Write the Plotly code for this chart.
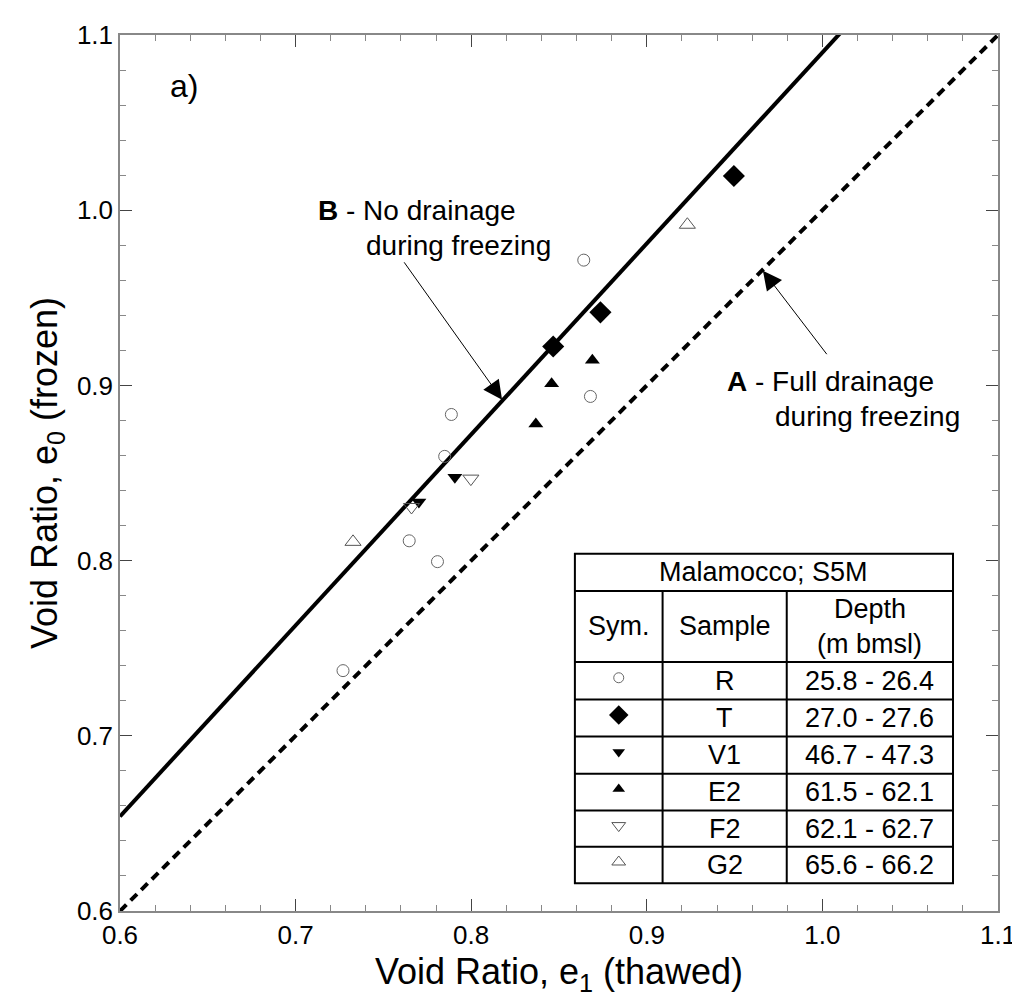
import plotly.graph_objects as go

# ---- data (void ratios) ----
R_e1 = [0.7887, 0.7849, 0.7647, 0.7808, 0.8679, 0.8641, 0.7270]
R_e0 = [0.8834, 0.8595, 0.8113, 0.7994, 0.8937, 0.9715, 0.7372]
T_e1 = [0.8467, 0.8736, 0.9496]
T_e0 = [0.9222, 0.9417, 1.0195]
V1_e1 = [0.7907, 0.7702]
V1_e0 = [0.8476, 0.8334]
E2_e1 = [0.8368, 0.8458, 0.8690]
E2_e0 = [0.8780, 0.9010, 0.9143]
F2_e1 = [0.7998, 0.7660]
F2_e0 = [0.8468, 0.8306]
G2_e1 = [0.7327, 0.9231]
G2_e0 = [0.8107, 0.9917]

line_e1 = [0.6, 1.1]
expansion = 1.09  # no drainage: e0 = 1.09 * e1

samples = ["R", "T", "V1", "E2", "F2", "G2"]
depths = ["25.8 - 26.4", "27.0 - 27.6", "46.7 - 47.3", "61.5 - 62.1", "62.1 - 62.7", "65.6 - 66.2"]

FONT = "Liberation Sans, Arial, sans-serif"

# plot area in pixels
L, R_, T_, B_ = 112, 996, 21, 903
W, H = 1020, 998


def px(x):
    return (x - L) / (R_ - L)


def py(y):
    return (B_ - y) / (B_ - T_)


fig = go.Figure()

# lines
fig.add_trace(go.Scatter(x=line_e1, y=line_e1, mode="lines",
                         line=dict(color="black", width=4, dash="9px,6px"),
                         showlegend=False, hoverinfo="skip"))
fig.add_trace(go.Scatter(x=line_e1, y=[v * expansion for v in line_e1], mode="lines",
                         line=dict(color="black", width=4),
                         showlegend=False, hoverinfo="skip"))

styles = {
    "R": dict(symbol="circle-open", size=12, color="#666666", line=dict(width=1, color="#666666")),
    "T": dict(symbol="diamond", size=17, color="black"),
    "V1": dict(symbol="triangle-down", size=13, color="black"),
    "E2": dict(symbol="triangle-up", size=13, color="black"),
    "F2": dict(symbol="triangle-down-open", size=14, color="#555555", line=dict(width=1, color="#555555")),
    "G2": dict(symbol="triangle-up-open", size=14, color="#555555", line=dict(width=1, color="#555555")),
}
table_sizes = {"R": 10, "T": 15, "V1": 11, "E2": 11, "F2": 12, "G2": 12}
series = {
    "R": (R_e1, R_e0), "T": (T_e1, T_e0), "V1": (V1_e1, V1_e0),
    "E2": (E2_e1, E2_e0), "F2": (F2_e1, F2_e0), "G2": (G2_e1, G2_e0),
}
for name in ["V1", "R", "T", "E2", "F2", "G2"]:
    xs, ys = series[name]
    fig.add_trace(go.Scatter(x=xs, y=ys, mode="markers", name=name,
                             marker=styles[name], showlegend=False))

shapes = []
annotations = []

# ---- table (legend) ----
tl, tr, tt, tb = 570, 950.7, 543.3, 875
rows = [580.7, 652.3, 690, 727.3, 764.7, 801.7, 838.3]
c1, c2 = 658.3, 783.3
shapes.append(dict(type="rect", xref="paper", yref="paper", x0=px(tl), x1=px(tr), y0=py(tb), y1=py(tt),
                   line=dict(color="black", width=2), fillcolor="rgba(0,0,0,0)", layer="above"))
for r in rows:
    shapes.append(dict(type="line", xref="paper", yref="paper", x0=px(tl), x1=px(tr), y0=py(r), y1=py(r),
                       line=dict(color="black", width=2), layer="above"))
for c in (c1, c2):
    shapes.append(dict(type="line", xref="paper", yref="paper", x0=px(c), x1=px(c), y0=py(tb), y1=py(rows[0]),
                       line=dict(color="black", width=2), layer="above"))


def txt(x, y, s, size=27, xanchor="center", **kw):
    annotations.append(dict(x=px(x), y=py(y), xref="paper", yref="paper", text=s, showarrow=False,
                            xanchor=xanchor, yanchor="middle", font=dict(family=FONT, size=size, color="black"), **kw))


txt((tl + tr) / 2, 562, "Malamocco; S5M")
txt((tl + c1) / 2, 616, "Sym.")
txt((c1 + c2) / 2, 616, "Sample")
txt((c2 + tr) / 2, 599, "Depth")
txt((c2 + tr) / 2, 634, "(m bmsl)")
row_centers = [(rows[i + 1] + (rows[i + 2] if i + 2 < len(rows) else tb)) / 2 for i in range(6)]
for i, (s, d) in enumerate(zip(samples, depths)):
    txt((c1 + c2) / 2, row_centers[i], s)
    txt((c2 + tr) / 2, row_centers[i], d)

# table symbols (overlay axes in paper units)
for i, s in enumerate(samples):
    st = dict(styles[s])
    st["size"] = table_sizes[s]
    fig.add_trace(go.Scatter(x=[px((tl + c1) / 2)], y=[py(row_centers[i] - 3)], mode="markers",
                             marker=st, xaxis="x2", yaxis="y2", showlegend=False, hoverinfo="skip"))

# labels
txt(160, 72, "a)", size=32, xanchor="left")
txt(309, 198, "<b>B</b> - No drainage", size=28, xanchor="left")
txt(358, 233, "during freezing", size=28, xanchor="left")
txt(721, 370, "<b>A</b> - Full drainage", size=28, xanchor="left")
txt(769, 405, "during freezing", size=28, xanchor="left")

# arrows
annotations.append(dict(x=px(496.7), y=py(388.3), xref="paper", yref="paper", ax=-99, ay=-139,
                        text="", showarrow=True, arrowhead=2, arrowsize=3.8, arrowwidth=1, arrowcolor="black"))
annotations.append(dict(x=px(759.3), y=py(258.3), xref="paper", yref="paper", ax=65, ay=85,
                        text="", showarrow=True, arrowhead=2, arrowsize=3.8, arrowwidth=1, arrowcolor="black"))

axis_common = dict(range=[0.6, 1.1], dtick=0.1, tick0=0.6, tickformat=".1f", ticks="inside", ticklen=12,
                   tickcolor="#444444", tickwidth=1, showgrid=False, zeroline=False,
                   showline=True, linecolor="#888888", linewidth=1.5, mirror="ticks",
                   minor=dict(dtick=0.02, ticks="inside", ticklen=6, tickcolor="#888888", tickwidth=1),
                   tickfont=dict(family=FONT, size=26, color="black"))

fig.update_layout(
    width=W, height=H,
    margin=dict(l=L, r=W - R_, t=T_, b=H - B_),
    plot_bgcolor="white", paper_bgcolor="white",
    xaxis=dict(**axis_common,
               title=dict(text="Void Ratio, e<sub>1</sub> (thawed)", font=dict(family=FONT, size=36, color="black"),
                          standoff=10)),
    yaxis=dict(**axis_common,
               title=dict(text="Void Ratio, e<sub>0</sub> (frozen)", font=dict(family=FONT, size=36, color="black"),
                          standoff=8)),
    xaxis2=dict(overlaying="x", range=[0, 1], visible=False, fixedrange=True),
    yaxis2=dict(overlaying="y", range=[0, 1], visible=False, fixedrange=True),
    shapes=shapes,
    annotations=annotations,
    showlegend=False,
)

fig.write_html("out.html")
